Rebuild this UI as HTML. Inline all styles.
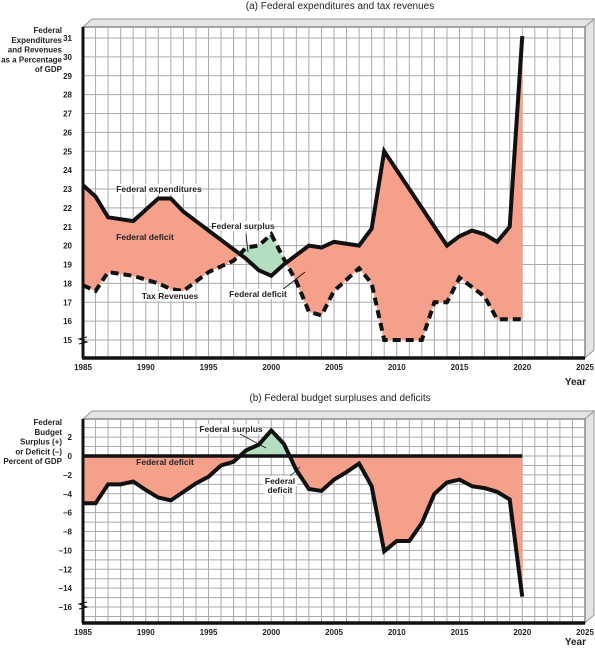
<!DOCTYPE html>
<html><head><meta charset="utf-8">
<style>
html,body{margin:0;padding:0;background:#fff;}
svg{display:block;font-family:"Liberation Sans",Arial,sans-serif;}
.tk{font-size:8px;font-weight:bold;fill:#222;}
.ttl{font-size:10px;fill:#222;}
.lab{font-size:8.5px;font-weight:bold;fill:#222;}
.yt{font-size:8px;font-weight:bold;fill:#222;}
.yr{font-size:10px;font-weight:bold;fill:#222;}
</style></head>
<body>
<svg id="c" width="595" height="648" viewBox="0 0 595 648">
</svg>
<script>
const years = [1985,1986,1987,1988,1989,1990,1991,1992,1993,1994,1995,1996,1997,1998,1999,2000,2001,2002,2003,2004,2005,2006,2007,2008,2009,2010,2011,2012,2013,2014,2015,2016,2017,2018,2019,2020];
const expenditures = [23.2,22.6,21.5,21.4,21.3,21.9,22.5,22.5,21.8,21.3,20.8,20.3,19.8,19.3,18.7,18.4,19.0,19.5,20.0,19.9,20.2,20.1,20.0,20.9,25.0,24.0,23.0,22.0,21.0,20.0,20.5,20.8,20.6,20.2,21.0,31.1];
const revenues = [17.9,17.6,18.6,18.5,18.4,18.2,18.0,17.7,17.6,18.1,18.6,18.9,19.2,19.9,20.0,20.6,19.3,18.1,16.5,16.3,17.6,18.2,18.8,18.0,15.0,15.0,15.0,15.0,17.0,17.0,18.3,17.8,17.3,16.1,16.1,16.1];
const balance = [-5.0,-5.0,-3.0,-3.0,-2.7,-3.6,-4.4,-4.7,-3.8,-2.9,-2.2,-1.0,-0.6,0.6,1.2,2.7,1.3,-1.5,-3.5,-3.7,-2.5,-1.7,-0.8,-3.2,-10.1,-9.0,-9.0,-7.1,-4.0,-2.8,-2.5,-3.2,-3.4,-3.8,-4.6,-14.9];
const xTicks = [1985,1990,1995,2000,2005,2010,2015,2020,2025];
const yTicksA = [15,16,17,18,19,20,21,22,23,24,25,26,27,28,29,30,31];
const yTicksB = [2,0,-2,-4,-6,-8,-10,-12,-14,-16];

const NS="http://www.w3.org/2000/svg";
const svg=document.getElementById('c');
function el(tag,attrs,parent){const e=document.createElementNS(NS,tag);for(const k in attrs)e.setAttribute(k,attrs[k]);(parent||svg).appendChild(e);return e;}
function txt(s,x,y,cls,anchor,parent){const t=el('text',{x:x,y:y,class:cls,'text-anchor':anchor||'middle'},parent);t.textContent=s;return t;}

const X0=83,X1=585;
const xs=y=>X0+(y-1985)*(X1-X0)/40;

function panel(cfg){
  const g=el('g',{});
  
  
  const ys=cfg.ys;
  const top=el('polygon',{points:`${X0},${cfg.top} ${X0+9},${cfg.top-8} ${X1+9},${cfg.top-8} ${X1},${cfg.top}`,fill:'#e4e4e4',stroke:'#999','stroke-width':1},g);
  
  
  const side=el('polygon',{points:`${X1},${cfg.top} ${X1+9},${cfg.top-8} ${X1+9},${cfg.bot-8} ${X1},${cfg.bot}`,fill:'#e4e4e4',stroke:'#999','stroke-width':1},g);
  
  
  el('rect',{x:X0,y:cfg.top,width:X1-X0,height:cfg.bot-cfg.top,fill:'#fff',stroke:'#888','stroke-width':1.5},g);
  const grid=el('g',{stroke:'#aaa','stroke-width':1},g);
  
  
  for(let y=1986;y<2025;y++){el('line',{x1:xs(y),x2:xs(y),y1:cfg.top,y2:cfg.bot},grid);}
  for(let v=cfg.gmin;v<=cfg.gmax;v++){el('line',{x1:X0,x2:X1,y1:ys(v),y2:ys(v)},grid);}
  const fills=el('g',{},g);
  
  
  const A=cfg.a,B=cfg.b;
  for(let i=0;i<years.length-1;i++){
    const d0=B[i]-A[i],d1=B[i+1]-A[i+1];
    const col=d=>d>0?'#b3dfc0':'#f5a08a';
    if(d0*d1>=0){
      const d=(d0!==0?d0:d1);
      el('polygon',{points:`${xs(years[i])},${ys(A[i])} ${xs(years[i+1])},${ys(A[i+1])} ${xs(years[i+1])},${ys(B[i+1])} ${xs(years[i])},${ys(B[i])}`,fill:col(d),stroke:col(d),'stroke-width':0.5},fills);
    } else {
      const t=d0/(d0-d1);const yc=years[i]+t;const vc=A[i]+t*(A[i+1]-A[i]);
      el('polygon',{points:`${xs(years[i])},${ys(A[i])} ${xs(yc)},${ys(vc)} ${xs(years[i])},${ys(B[i])}`,fill:col(d0),stroke:col(d0),'stroke-width':0.5},fills);
      el('polygon',{points:`${xs(yc)},${ys(vc)} ${xs(years[i+1])},${ys(A[i+1])} ${xs(years[i+1])},${ys(B[i+1])}`,fill:col(d1),stroke:col(d1),'stroke-width':0.5},fills);
    }
  }
  el('line',{x1:X0,x2:X0,y1:cfg.top,y2:cfg.bot,stroke:'#111','stroke-width':3},g);
  el('line',{x1:X0-1,x2:X1,y1:cfg.bot,y2:cfg.bot,stroke:'#111','stroke-width':3.5},g);
  el('path',{d:`M${X0-4},${cfg.bot-14} l8,-2 l-8,-3 l8,-2`,stroke:'#111',fill:'none','stroke-width':1},g);
  xTicks.forEach(y=>{const t=txt(String(y),xs(y),cfg.bot+12,'tk','middle',g);
    
    });
  cfg.yt.forEach(v=>{const t=txt(v<0?'\u2212'+(-v):String(v),72,ys(v)+3,'tk','end',g);
    
    });
  const yr=txt('Year',586,cfg.bot+cfg.yearOff,'yr','end',g);
  
  
  return g;
}

const ysA=v=>340-(v-15)*18.875;
const ysB=v=>456-v*9.44;
const zeros=years.map(()=>0);

panel({name:'panel-a',top:27,bot:358,ys:ysA,gmin:15,gmax:31,yt:yTicksA,a:expenditures,b:revenues,yearOff:27});
panel({name:'panel-b',top:419,bot:623,ys:ysB,gmin:-17,gmax:3,yt:yTicksB,a:zeros,b:balance,yearOff:22});

function line(arr,ys,dash,name){
  const p=el('polyline',{points:years.map((y,i)=>xs(y)+','+ys(arr[i])).join(' '),fill:'none',stroke:'#111','stroke-width':4,'stroke-linejoin':'miter'});
  if(dash)p.setAttribute('stroke-dasharray',dash);
  
  
}
line(revenues,ysA,'8,5','tax-revenues-line');
line(expenditures,ysA,null,'federal-expenditures-line');
const zl=el('line',{x1:xs(1985),x2:xs(2020),y1:ysB(0),y2:ysB(0),stroke:'#111','stroke-width':3.5});


line(balance,ysB,null,'budget-balance-line');

function label(s,x,y,name,w){
  const g=el('g',{});
  
  
  if(w)el('rect',{x:x-w/2,y:y-8,width:w,height:10,fill:'#fff'},g);
  txt(s,x,y,'lab','middle',g);
}
function leader(x1,y1,x2,y2){el('line',{x1,y1,x2,y2,stroke:'#111','stroke-width':0.8});}

const t1=txt('(a) Federal expenditures and tax revenues',340,9,'ttl');


const t2=txt('(b) Federal budget surpluses and deficits',340,401,'ttl');



function ytitle(lines,y0,name){
  const g=el('g',{});
  
  
  lines.forEach((s,i)=>txt(s,62,y0+i*9.8,'yt','end',g));
}
ytitle(['Federal','Expenditures','and Revenues','as a Percentage','of GDP'],33,'y-axis-title-a');
ytitle(['Federal','Budget','Surplus (+)','or Deficit (\u2013)','Percent of GDP'],425,'y-axis-title-b');

label('Federal expenditures',159,192,'label-federal-expenditures',84);
label('Federal deficit',145,240,'label-federal-deficit-a');
leader(246,234,248,252);
label('Federal surplus',243,229,'label-federal-surplus-a',62);
label('Tax Revenues',170,299,'label-tax-revenues',56);
leader(282,290,305,272);
label('Federal deficit',258,297,'label-federal-deficit-a2',58);
leader(240,434,266,448);
label('Federal surplus',231,432,'label-federal-surplus-b',62);
label('Federal deficit',165,465,'label-federal-deficit-b');
leader(288,478,300,467);
label('Federal',280,484,'label-federal-deficit-b2',34);
label('deficit',280,493,'label-federal-deficit-b2-line2',30);
</script>
</body></html>
